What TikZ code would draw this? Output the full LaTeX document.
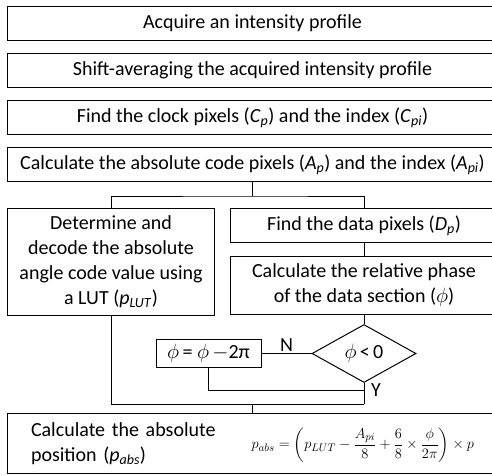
\documentclass[tikz,border=0pt]{standalone}
\usepackage{amsmath}
\usepackage{fontspec}
\setmainfont{Carlito}
\usetikzlibrary{positioning,shapes.geometric,calc}

\newcommand{\idx}[2]{\textit{#1}\textsubscript{\textit{#2}}}

\begin{document}
\begin{tikzpicture}[x=1pt,y=-1pt,
    stage/.style={draw=black,line width=1pt,align=center,inner sep=0pt,
      minimum width=490pt,minimum height=34pt,font=\fontsize{20}{25}\selectfont},
    side/.style={stage,minimum width=267pt},
    check/.style={draw=black,line width=1pt,diamond,aspect=1.8,inner sep=0pt,
      minimum width=104pt,minimum height=58pt,font=\fontsize{20}{25}\selectfont},
    tag/.style={font=\fontsize{20}{25}\selectfont,inner sep=1pt},
    link/.style={line width=1pt}
  ]
    \useasboundingbox (0,0) rectangle (492,475);
    \node[stage,anchor=north west] (acq) at (7,6) {Acquire an intensity profile};
    \node[stage,below=12pt of acq] (shift) {Shift-averaging the acquired intensity profile};
    \node[stage,below=12pt of shift] (clock) {Find the clock pixels (\idx{C}{p}) and the index (\idx{C}{pi})};
    \node[stage,below=12pt of clock] (absc) {Calculate the absolute code pixels (\idx{A}{p}) and the index (\idx{A}{pi})};
    \node[stage,minimum width=207pt,minimum height=107pt,anchor=north west] (lut) at (7,208)
      {Determine and\\decode the absolute\\angle code value using\\a LUT (\idx{p}{LUT})};
    \node[side,anchor=north west] (data) at (230,208) {Find the data pixels (\idx{D}{p})};
    \node[side,minimum height=58pt,below=13pt of data] (phase)
      {Calculate the relative phase\\of the data section ($\phi$)};
    \node[check,below=9pt of phase] (neg) {$\phi$\,<\,0};
    \node[stage,minimum width=105pt,minimum height=28pt,left=50pt of neg] (wrap) {$\phi$\,= $\phi$\,$-$2π};
    \node[stage,minimum height=60pt,text width=443pt,align=left,anchor=north west] (pos) at (7,413)
      {\parbox[c]{190pt}{\raggedright Calculate the absolute\\position (\idx{p}{abs})}\hfill
       {\fontsize{15.2}{18}\selectfont$\displaystyle p_{abs}=\left(p_{LUT}-\frac{A_{pi}}{8}+\frac{6}{8}\times\frac{\phi}{2\pi}\right)\times p$}};
    % connectors
    \coordinate (split) at ($(absc.south)+(0,14)$);
    \coordinate (loop) at ($(neg.south)+(0,7)$);
    \coordinate (join) at ($(neg.south)+(0,21)$);
    \draw[link] (absc.south) -- (split);
    \draw[link] (lut.north) |- (split) -| (data.north);
    \draw[link] (data) -- (phase);
    \draw[link] (phase) -- (neg);
    \draw[link] (neg) -- node[tag,above=1pt] {N} (wrap);
    \draw[link] (wrap.south) |- (loop);
    \draw[link] (neg.south) -- (join);
    \draw[link] (lut.south) |- (join);
    \draw[link] (pos.north) -- (pos.north |- join);
    \node[tag,right=6pt of loop] (yes) {Y};
  \end{tikzpicture}
\end{document}
